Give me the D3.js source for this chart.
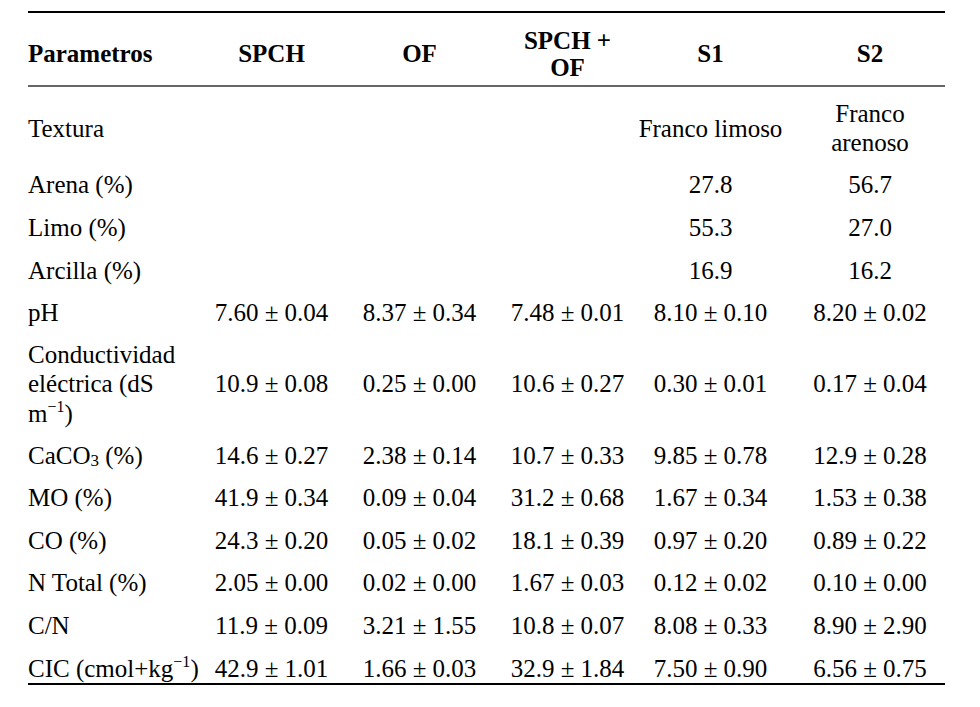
<!DOCTYPE html>
<html><head><meta charset="utf-8">
<script src="https://cdn.jsdelivr.net/npm/d3@7"></script>
<style>body{margin:0;background:#fff}svg{display:block}</style>
</head><body>
<svg id="chart" width="980" height="707"></svg>
<script>
// ---- data ----
const headerLabel = "Parametros";
const columns = ["SPCH", "OF", "SPCH + \nOF", "S1", "S2"];
const parameters = [
  "Textura", "Arena (%)", "Limo (%)", "Arcilla (%)", "pH",
  "Conductividad\neléctrica (dS\nm^{−1})",
  "CaCO_{3} (%)", "MO (%)", "CO (%)", "N Total (%)", "C/N",
  "CIC (cmol+kg^{−1})"
];
const spch    = ["", "", "", "", "7.60 ± 0.04", "10.9 ± 0.08", "14.6 ± 0.27", "41.9 ± 0.34", "24.3 ± 0.20", "2.05 ± 0.00", "11.9 ± 0.09", "42.9 ± 1.01"];
const of      = ["", "", "", "", "8.37 ± 0.34", "0.25 ± 0.00", "2.38 ± 0.14", "0.09 ± 0.04", "0.05 ± 0.02", "0.02 ± 0.00", "3.21 ± 1.55", "1.66 ± 0.03"];
const spchOf  = ["", "", "", "", "7.48 ± 0.01", "10.6 ± 0.27", "10.7 ± 0.33", "31.2 ± 0.68", "18.1 ± 0.39", "1.67 ± 0.03", "10.8 ± 0.07", "32.9 ± 1.84"];
const s1      = ["Franco limoso", "27.8", "55.3", "16.9", "8.10 ± 0.10", "0.30 ± 0.01", "9.85 ± 0.78", "1.67 ± 0.34", "0.97 ± 0.20", "0.12 ± 0.02", "8.08 ± 0.33", "7.50 ± 0.90"];
const s2      = ["Franco\narenoso", "56.7", "27.0", "16.2", "8.20 ± 0.02", "0.17 ± 0.04", "12.9 ± 0.28", "1.53 ± 0.38", "0.89 ± 0.22", "0.10 ± 0.00", "8.90 ± 2.90", "6.56 ± 0.75"];
const seriesValues = [spch, of, spchOf, s1, s2];

// ---- layout ----
const svg = d3.select("#chart");
const font = "'Liberation Serif', 'Times New Roman', serif";
const fs = 25, lineH = 28.5, pad = 14;
const left = 28, right = 945;

const x = d3.scaleOrdinal().domain(d3.range(columns.length))
  .range([271.5, 419.5, 567.5, 710.5, 870]);

const nLines = parameters.map((p, i) =>
  Math.max(p.split("\n").length, ...seriesValues.map(s => s[i].split("\n").length)));
const heights = nLines.map(n => pad + n * lineH);
const cum = [0]; heights.forEach(h => cum.push(cum[cum.length - 1] + h));
const y = d3.scaleLinear().domain([0, cum[cum.length - 1]]).range([101, 698]);
const rowCenter = i => y((cum[i] + cum[i + 1]) / 2);

// rich text helper: _{sub} and ^{sup}
function addRich(textSel, str) {
  const re = /(_\{[^}]*\}|\^\{[^}]*\})/g;
  const parts = str.split(re).filter(s => s.length);
  let pendingDy = 0;
  parts.forEach(p => {
    if (p.startsWith("_{")) {
      textSel.append("tspan").attr("font-size", 17).attr("dy", pendingDy + 2).text(p.slice(2, -1));
      pendingDy = -2;
    } else if (p.startsWith("^{")) {
      textSel.append("tspan").attr("font-size", 16).attr("dy", pendingDy - 10).text(p.slice(2, -1));
      pendingDy = 10;
    } else {
      textSel.append("tspan").attr("dy", pendingDy).text(p);
      pendingDy = 0;
    }
  });
}

function drawCell(g, str, xPos, yCenter, anchor, weight, lh) {
  const lines = str.split("\n");
  lines.forEach((ln, k) => {
    const t = g.append("text")
      .attr("x", xPos)
      .attr("y", yCenter + (k - (lines.length - 1) / 2) * lh)
      .attr("text-anchor", anchor)
      .attr("font-family", font)
      .attr("font-size", fs)
      .attr("font-weight", weight)
      .attr("fill", "#000");
    addRich(t, ln.replace(/\s+$/, ""));
  });
}

// rules
const rules = [
  {y: 12, w: 2, c: "#000"},
  {y: 86, w: 1.5, c: "#333"},
  {y: 684, w: 2, c: "#000"}
];
svg.selectAll("line.rule").data(rules).join("line").attr("class", "rule")
  .attr("x1", left).attr("x2", right)
  .attr("y1", d => d.y).attr("y2", d => d.y)
  .attr("stroke", d => d.c).attr("stroke-width", d => d.w);

// header
const hg = svg.append("g");
const headerY = 62;
drawCell(hg, headerLabel, left, headerY, "start", "bold", 27);
columns.forEach((c, j) => drawCell(hg, c, x(j), headerY, "middle", "bold", 27));

// body
const bg = svg.append("g");
parameters.forEach((p, i) => {
  const yc = rowCenter(i);
  drawCell(bg, p, left, yc, "start", "normal", 29.5);
  seriesValues.forEach((s, j) => {
    if (s[i]) drawCell(bg, s[i], x(j), yc, "middle", "normal", lineH);
  });
});
</script>
</body></html>
